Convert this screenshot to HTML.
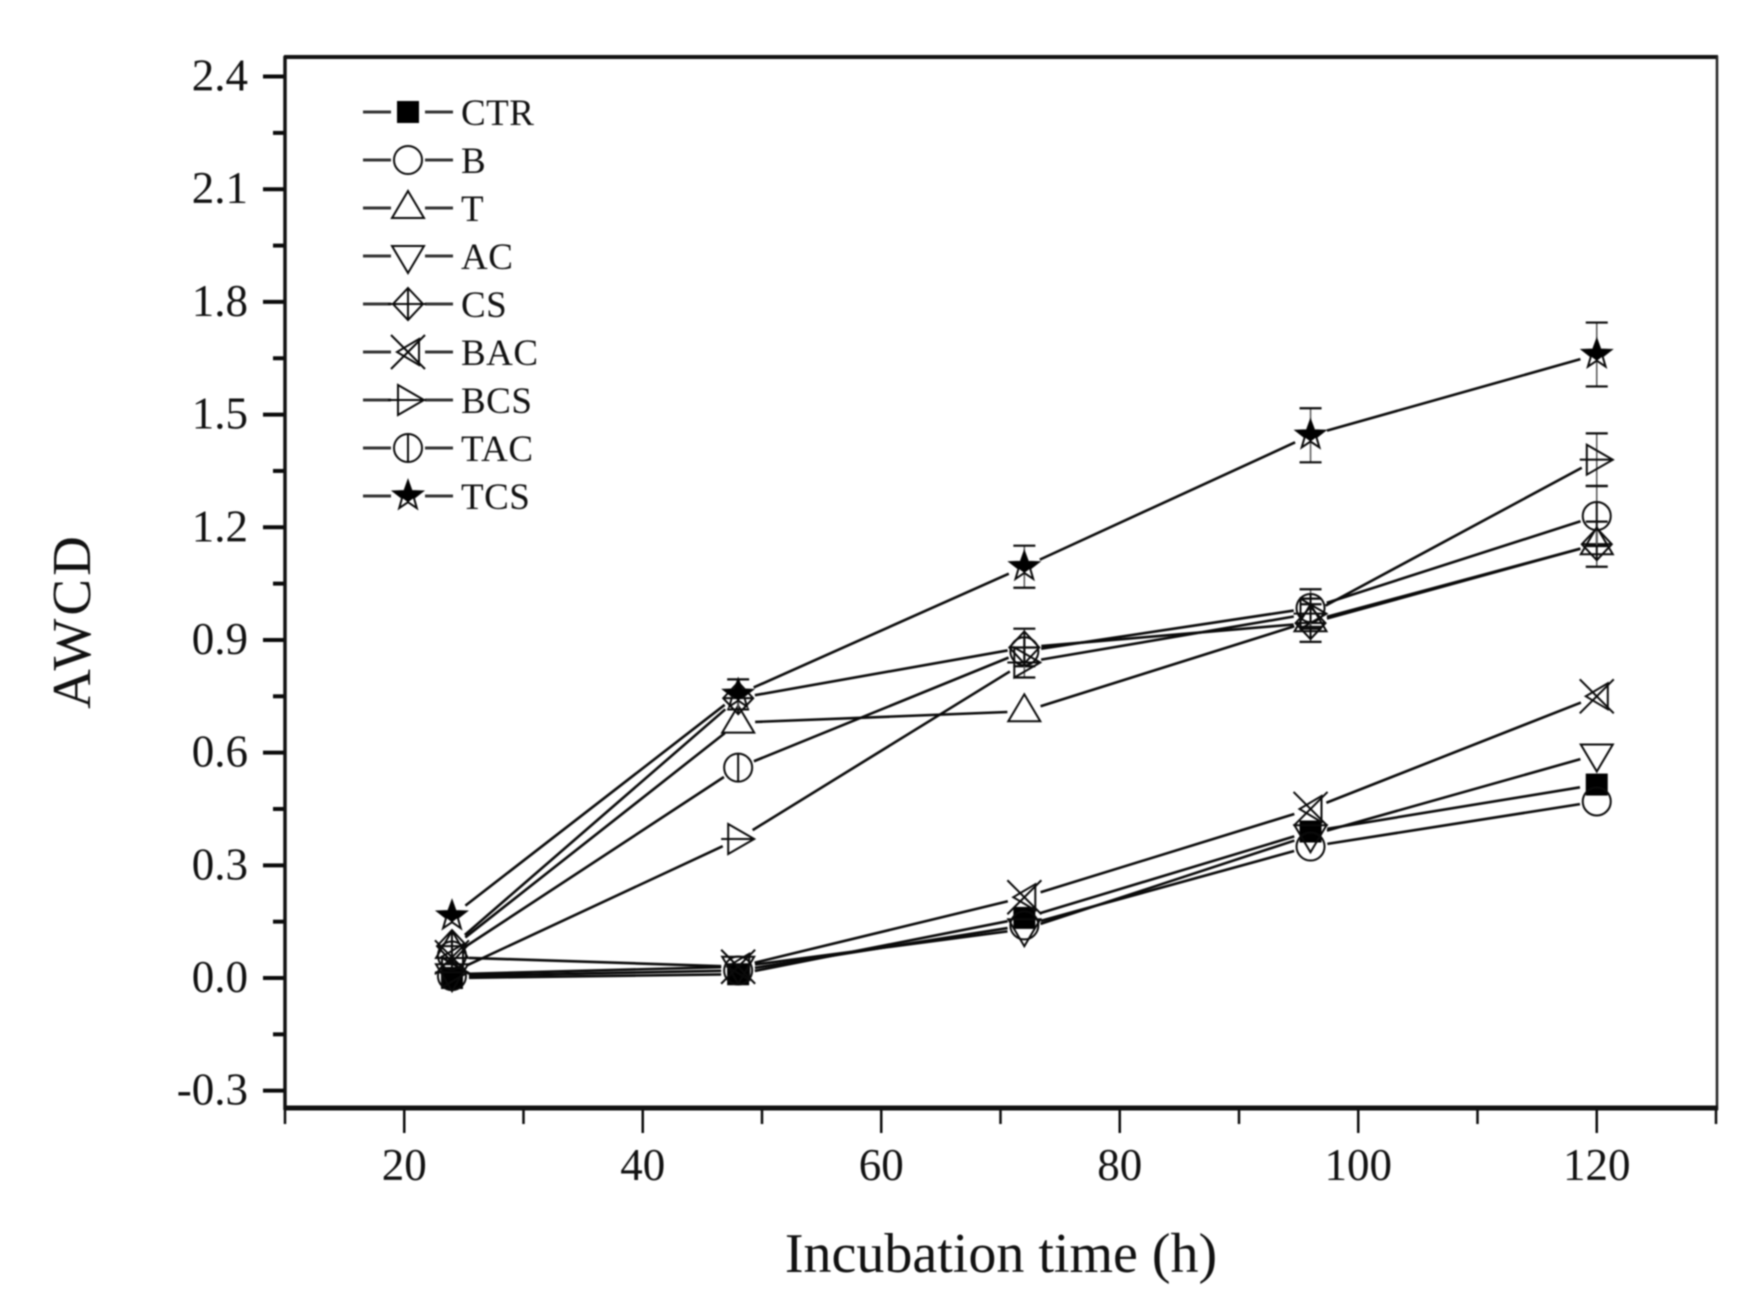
<!DOCTYPE html>
<html lang="en">
<head>
<meta charset="utf-8">
<title>AWCD vs incubation time</title>
<style>
  html, body { margin: 0; padding: 0; background: #fff; }
  body { width: 1754px; height: 1306px; overflow: hidden; }
  svg { display: block; filter: blur(0.8px); }
  text { font-family: "Liberation Serif", serif; fill: #111; }
</style>
</head>
<body>
<svg id="chart" xmlns="http://www.w3.org/2000/svg" width="1754" height="1306" viewBox="0 0 1754 1306">
  <rect x="0" y="0" width="1754" height="1306" fill="#fff"/>
  <g id="ticks"></g>
  <g id="series"></g>
  <g id="legend"></g>
  <line x1="284" y1="57" x2="1718" y2="57" stroke="#111" stroke-width="4"/>
  <line x1="1717" y1="56" x2="1717" y2="1110" stroke="#222" stroke-width="2.5"/>
  <line x1="285" y1="56" x2="285" y2="1110" stroke="#111" stroke-width="3.5"/>
  <line x1="284" y1="1108" x2="1718" y2="1108" stroke="#111" stroke-width="5"/>
  <text x="1001" y="1272" font-size="56" text-anchor="middle">Incubation time (h)</text>
  <text transform="translate(90 621) rotate(-90)" font-size="55" letter-spacing="3" text-anchor="middle">AWCD</text>
</svg>
<script>
const hours = [24, 48, 72, 96, 120];
const seriesNames = ["CTR", "B", "T", "AC", "CS", "BAC", "BCS", "TAC", "TCS"];
const ctrValues = [0.0, 0.01, 0.16, 0.39, 0.515];
const bValues = [0.005, 0.02, 0.14, 0.35, 0.47];
const tValues = [0.08, 0.68, 0.71, 0.95, 1.155];
const acValues = [0.01, 0.03, 0.13, 0.38, 0.595];
const csValues = [0.085, 0.745, 0.88, 0.945, 1.155];
const bacValues = [0.055, 0.03, 0.215, 0.45, 0.75];
const bcsValues = [0.015, 0.37, 0.84, 0.97, 1.38];
const tacValues = [0.06, 0.56, 0.87, 0.985, 1.23];
const tcsValues = [0.165, 0.755, 1.095, 1.445, 1.66];
const ctrErrors = [0.01, 0.01, 0.02, 0.02, 0.02];
const bErrors = [0.01, 0.01, 0.02, 0.02, 0.02];
const tErrors = [0.01, 0.02, 0.02, 0.02, 0.02];
const acErrors = [0.01, 0.01, 0.02, 0.02, 0.02];
const csErrors = [0.01, 0.02, 0.05, 0.05, 0.06];
const bacErrors = [0.01, 0.01, 0.02, 0.02, 0.02];
const bcsErrors = [0.01, 0.02, 0.04, 0.04, 0.07];
const tacErrors = [0.01, 0.02, 0.02, 0.05, 0.08];
const tcsErrors = [0.01, 0.04, 0.056, 0.072, 0.085];
const xTickLabels = ["20", "40", "60", "80", "100", "120"];
const xMinorTicks = [10, 30, 50, 70, 90, 110, 130];
const yTickLabels = ["-0.3", "0.0", "0.3", "0.6", "0.9", "1.2", "1.5", "1.8", "2.1", "2.4"];
const yMinorTicks = [-0.15, 0.15, 0.45, 0.75, 1.05, 1.35, 1.65, 1.95, 2.25];

const allValues = [ctrValues, bValues, tValues, acValues, csValues, bacValues, bcsValues, tacValues, tcsValues];
const allErrors = [ctrErrors, bErrors, tErrors, acErrors, csErrors, bacErrors, bcsErrors, tacErrors, tcsErrors];

const SVG_NS = "http://www.w3.org/2000/svg";
const INK = "#0a0a0a";
const MIN_VISIBLE_ERROR = 0.03;

function xPos(v) { return 285 + (v - 10) * 11.925; }
function yPos(v) { return 978 - v * 375.6; }

function shape(parent, tag, props) {
  const el = document.createElementNS(SVG_NS, tag);
  for (const key in props) { el.setAttribute(key, props[key]); }
  parent.appendChild(el);
  return el;
}

function seg(parent, x1, y1, x2, y2, width, color) {
  return shape(parent, "line", { x1: x1, y1: y1, x2: x2, y2: y2, stroke: color || INK, "stroke-width": width || 2 });
}

function poly(parent, pts, fill) {
  return shape(parent, "polygon", {
    points: pts.map(function (p) { return p[0].toFixed(1) + "," + p[1].toFixed(1); }).join(" "),
    fill: fill || "none", stroke: INK, "stroke-width": 2
  });
}

function drawMarker(parent, kind, cx, cy) {
  if (kind === "CTR") {
    shape(parent, "rect", { x: cx - 11, y: cy - 11, width: 22, height: 22, fill: "#000" });
  } else if (kind === "B") {
    shape(parent, "circle", { cx: cx, cy: cy, r: 14, fill: "none", stroke: INK, "stroke-width": 2 });
  } else if (kind === "T") {
    poly(parent, [[cx, cy - 17], [cx + 16, cy + 10], [cx - 16, cy + 10]]);
  } else if (kind === "AC") {
    poly(parent, [[cx, cy + 17], [cx + 16, cy - 10], [cx - 16, cy - 10]]);
  } else if (kind === "CS") {
    poly(parent, [[cx, cy - 16], [cx + 15, cy], [cx, cy + 16], [cx - 15, cy]]);
    seg(parent, cx - 15, cy, cx + 15, cy, 2);
    seg(parent, cx, cy - 16, cx, cy + 16, 2);
  } else if (kind === "BAC") {
    seg(parent, cx - 17, cy - 17, cx + 17, cy + 17, 2);
    seg(parent, cx - 17, cy + 17, cx + 17, cy - 17, 2);
    poly(parent, [[cx + 11, cy - 13], [cx + 11, cy + 13], [cx - 11, cy]]);
  } else if (kind === "BCS") {
    poly(parent, [[cx + 16, cy], [cx - 10, cy - 15], [cx - 10, cy + 15]]);
    seg(parent, cx - 17, cy, cx + 16, cy, 2);
  } else if (kind === "TAC") {
    shape(parent, "circle", { cx: cx, cy: cy, r: 14, fill: "none", stroke: INK, "stroke-width": 2 });
    seg(parent, cx, cy - 14, cx, cy + 14, 2);
  } else if (kind === "TCS") {
    const pts = [];
    for (let i = 0; i < 10; i++) {
      const r = i % 2 === 0 ? 15 : 6.2;
      const a = -Math.PI / 2 + i * Math.PI / 5;
      pts.push([cx + r * Math.cos(a), cy + r * Math.sin(a)]);
    }
    poly(parent, pts);
    const upper = [pts[8], pts[9], pts[0], pts[1], pts[2], pts[3], pts[5], pts[7]];
    const fillPart = shape(parent, "polygon", {
      points: upper.map(function (p) { return p[0].toFixed(1) + "," + p[1].toFixed(1); }).join(" "),
      fill: "#000"
    });
    fillPart.setAttribute("stroke", "none");
  }
}

/* axis ticks */
const ticksGroup = document.getElementById("ticks");

xTickLabels.forEach(function (label) {
  const v = parseFloat(label);
  const tick = seg(ticksGroup, xPos(v), 1108, xPos(v), 1133, 2.5);
  
  
  const text = shape(ticksGroup, "text", { x: xPos(v), y: 1180, "font-size": 45, "text-anchor": "middle" });
  text.textContent = label;
  
  
});

xMinorTicks.forEach(function (v) {
  const tick = seg(ticksGroup, xPos(v), 1108, xPos(v), 1124, 2.5);
  
  
});

yTickLabels.forEach(function (label) {
  const v = parseFloat(label);
  const tick = seg(ticksGroup, 263, yPos(v), 285, yPos(v), 4);
  
  
  const text = shape(ticksGroup, "text", { x: 248, y: yPos(v) + 14, "font-size": 45, "text-anchor": "end" });
  text.textContent = label;
  
  
});

yMinorTicks.forEach(function (v) {
  const tick = seg(ticksGroup, 273, yPos(v), 285, yPos(v), 4);
  
  
});

/* series */
const seriesGroup = document.getElementById("series");
const GAP = 17;

seriesNames.forEach(function (name, s) {
  const values = allValues[s];
  const errors = allErrors[s];
  const group = shape(seriesGroup, "g", {});
  
  

  for (let i = 0; i < hours.length - 1; i++) {
    const x1 = xPos(hours[i]), y1 = yPos(values[i]);
    const x2 = xPos(hours[i + 1]), y2 = yPos(values[i + 1]);
    const len = Math.hypot(x2 - x1, y2 - y1);
    const ux = (x2 - x1) / len, uy = (y2 - y1) / len;
    const line = seg(group, x1 + ux * GAP, y1 + uy * GAP, x2 - ux * GAP, y2 - uy * GAP, 2.6);
    
    
  }

  hours.forEach(function (h, i) {
    const cx = xPos(h);
    if (errors[i] >= MIN_VISIBLE_ERROR) {
      const top = yPos(values[i] + errors[i]);
      const bottom = yPos(values[i] - errors[i]);
      const bar = shape(group, "g", {});
      
      
      seg(bar, cx, top, cx, bottom, 1.5, "#555");
      seg(bar, cx - 11, top, cx + 11, top, 2.2);
      seg(bar, cx - 11, bottom, cx + 11, bottom, 2.2);
    }

    const marker = shape(group, "g", {});
    
    
    drawMarker(marker, name, cx, yPos(values[i]));
  });
});

/* legend */
const legendGroup = document.getElementById("legend");

seriesNames.forEach(function (name, i) {
  const y = 112 + i * 48;
  const entry = shape(legendGroup, "g", {});
  
  
  seg(entry, 363, y, 391, y, 3, "#333");
  seg(entry, 425, y, 453, y, 3, "#333");
  if (name === "CS" || name === "BCS") { seg(entry, 388, y, 426, y, 2); }
  drawMarker(entry, name, 408, y);
  const label = shape(entry, "text", { x: 461, y: y + 13, "font-size": 37, "letter-spacing": 0.5 });
  label.textContent = name;
  
  
});
</script>
</body>
</html>
